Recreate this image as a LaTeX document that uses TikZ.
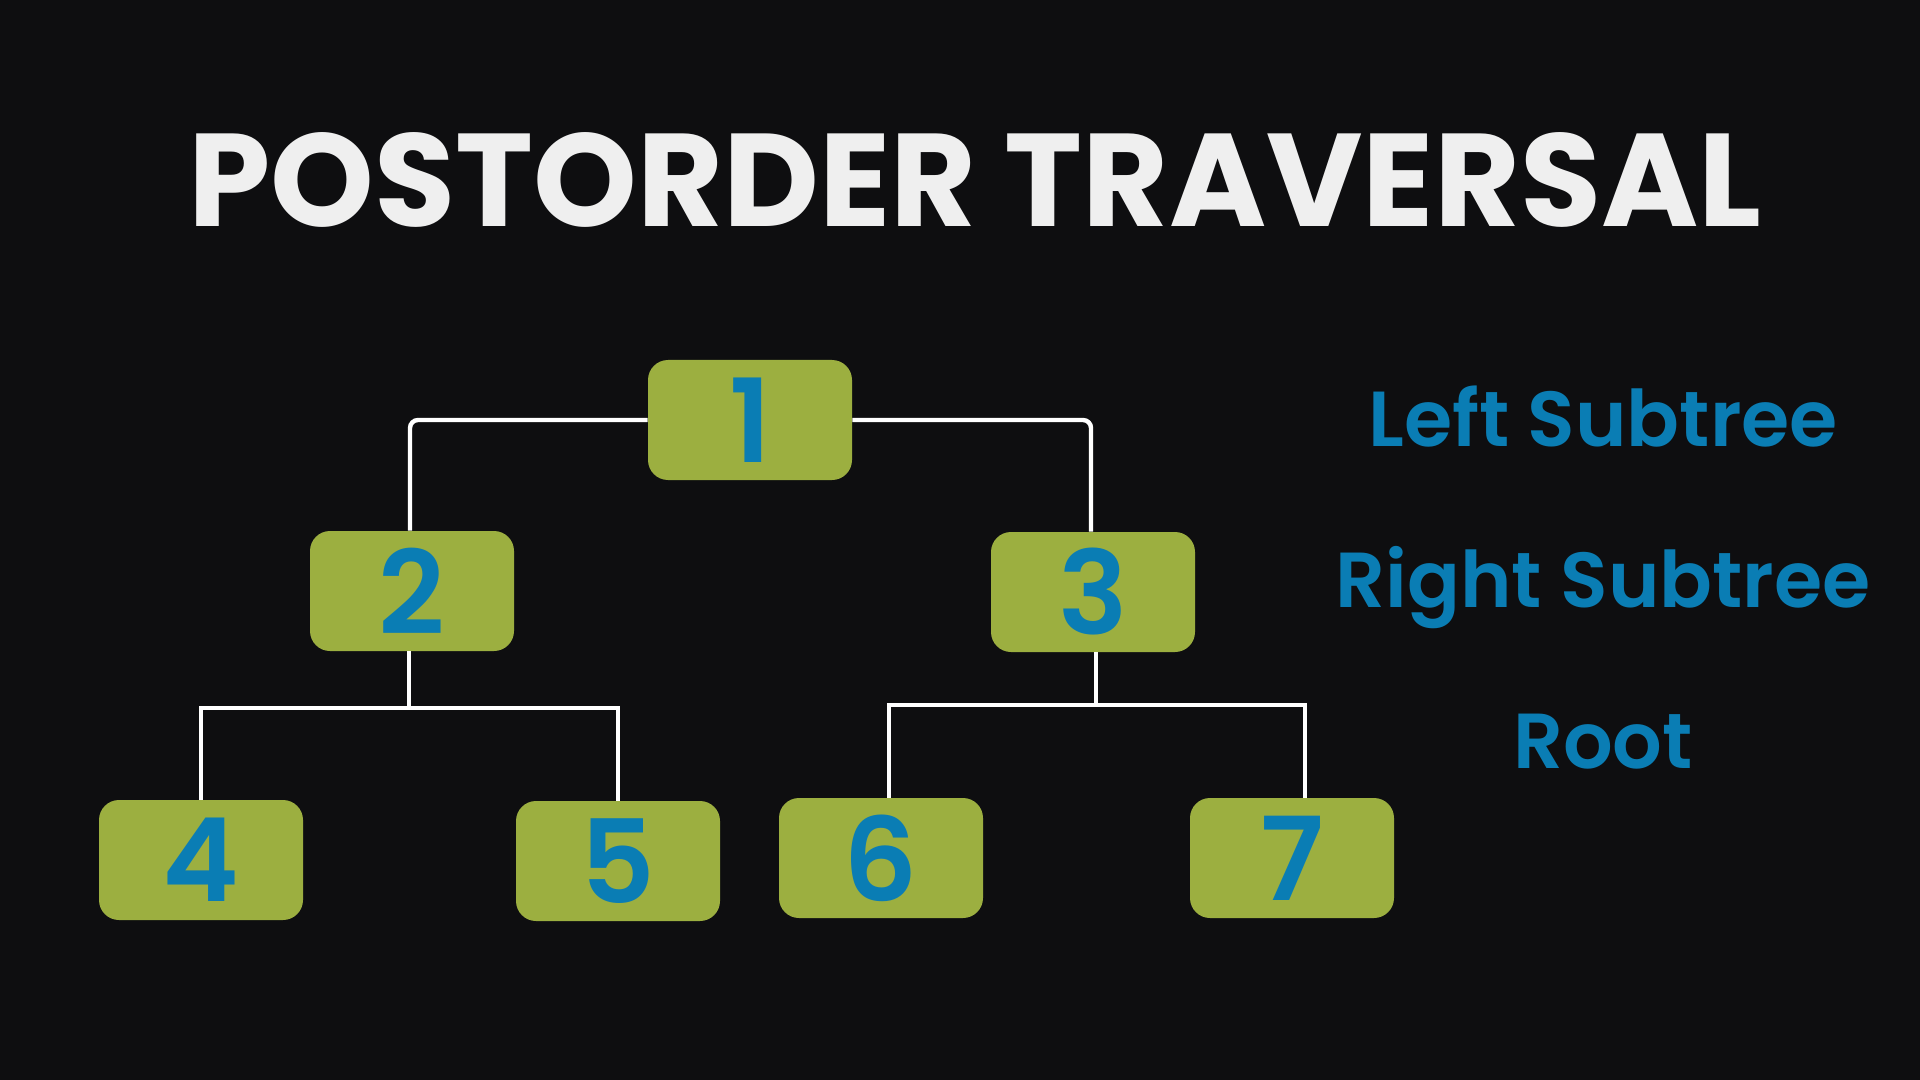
\documentclass[tikz,border=0pt]{standalone}
\usepackage{fontspec}
\setmainfont{Poppins}
\newfontfamily\semifont{Poppins SemiBold}
\definecolor{bg}{HTML}{0E0E10}
\definecolor{nodegreen}{HTML}{9CAF40}
\definecolor{numblue}{HTML}{0A7DB4}
\definecolor{titlewhite}{HTML}{EFEFEF}
\begin{document}
\begin{tikzpicture}[x=0.5pt,y=-0.5pt,
  treenode/.style={fill=nodegreen, rounded corners=10pt, minimum width=102pt, minimum height=60pt, inner sep=0pt,
    text=numblue, font=\fontsize{58}{58}\selectfont\semifont},
  edge/.style={draw=white, line width=2.2pt},
  label/.style={text=numblue, anchor=base, inner sep=0pt, font=\fontsize{39}{39}\selectfont\semifont},
  title/.style={text=titlewhite, anchor=base, inner sep=0pt, font=\fontsize{66}{66}\selectfont\bfseries}]
\fill[bg] (0,0) rectangle (1920,1080);
\useasboundingbox (0,0) rectangle (1920,1080);

\node[title] (ttl) at (975,227) {POSTORDER TRAVERSAL};

\node[treenode] (n1) at (750,420) {1};
\node[treenode] (n2) at (412,591) {2};
\node[treenode] (n3) at (1093,592) {3};
\node[treenode] (n4) at (201,860) {4};
\node[treenode] (n5) at (618,861) {5};
\node[treenode] (n6) at (881,858) {6};
\node[treenode] (n7) at (1292,858) {7};

\coordinate (j2) at (409,708);
\coordinate (j3) at (1096,705);

\draw[edge, rounded corners=4pt] (n1.west) -| ([xshift=-1pt]n2.north);
\draw[edge, rounded corners=4pt] (n1.east) -| ([xshift=-1pt]n3.north);
\draw[edge] (n2.south -| j2) -- (j2);
\draw[edge] (n4.north) |- (j2) -| (n5.north);
\draw[edge] (n3.south -| j3) -- (j3);
\draw[edge] ([xshift=4pt]n6.north) |- (j3) -| ([xshift=6.5pt]n7.north);

\node[label] (lbl1) at (1603,446) {Left Subtree};
\node[label] (lbl2) at (1603,607) {Right Subtree};
\node[label] (lbl3) at (1603,768) {Root};
\end{tikzpicture}
\end{document}
